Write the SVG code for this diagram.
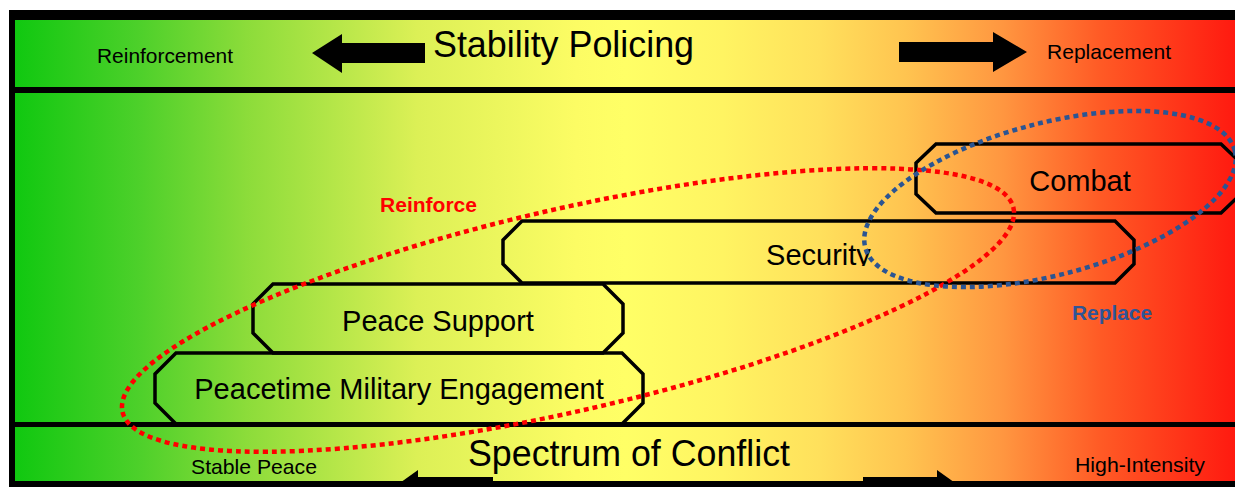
<svg xmlns="http://www.w3.org/2000/svg" width="1235" height="487" viewBox="0 0 1235 487">
<style>
.node{fill:none;stroke:#000;stroke-width:3.5;stroke-linejoin:miter}
.nt{font-family:"Liberation Sans",Arial,sans-serif;font-size:29px;fill:#000;text-anchor:middle}
.big{font-family:"Liberation Sans",Arial,sans-serif;font-size:36px;fill:#000;text-anchor:middle}
.sm{font-family:"Liberation Sans",Arial,sans-serif;font-size:21px;fill:#000;text-anchor:middle}
.lbl{font-family:"Liberation Sans",Arial,sans-serif;font-size:21px;font-weight:bold;text-anchor:middle}
.dot{fill:none;stroke-width:4.5;stroke-dasharray:5 4}
.arr{fill:#000}
</style>
<defs>
<linearGradient id="spec" gradientUnits="userSpaceOnUse" x1="15" y1="0" x2="1235" y2="0">
<stop offset="0" stop-color="#10c810"/>
<stop offset="0.1" stop-color="#4cd02a"/>
<stop offset="0.19" stop-color="#8cdc3a"/>
<stop offset="0.33" stop-color="#dcf056"/>
<stop offset="0.46" stop-color="#fcfc64"/>
<stop offset="0.5" stop-color="#ffff66"/>
<stop offset="0.58" stop-color="#fff462"/>
<stop offset="0.66" stop-color="#ffe05c"/>
<stop offset="0.73" stop-color="#ffc450"/>
<stop offset="0.81" stop-color="#ff9640"/>
<stop offset="0.89" stop-color="#ff5a25"/>
<stop offset="1" stop-color="#ff1a10"/>
</linearGradient>
<clipPath id="secclip"><rect x="600" y="225" width="450" height="41"/></clipPath>
</defs>
<rect x="0" y="0" width="1235" height="487" fill="#fff"/>
<g id="frame">
<rect x="9" y="10" width="1240" height="480" fill="#000"/>
<rect x="15" y="20" width="1225" height="67" fill="url(#spec)"/>
<rect x="15" y="93" width="1225" height="329" fill="url(#spec)"/>
<rect x="15" y="427" width="1225" height="54" fill="url(#spec)"/>
</g>
<g id="arrows">
<polygon class="arr" points="312,53 342,34 342,43 425,43 425,63 342,63 342,73"/>
<polygon class="arr" points="899,42 993,42 993,32 1027,52 993,72 993,62 899,62"/>
<polygon class="arr" points="397,485 418,470 418,477 493,477 493,493 418,493 418,500"/>
<polygon class="arr" points="863,477 937,477 937,470 958,485 937,500 937,493 863,493"/>
</g>
<g id="band-labels">
<text class="big" x="563.5" y="57" textLength="261" lengthAdjust="spacingAndGlyphs">Stability Policing</text>
<text class="sm" x="165" y="63" textLength="136" lengthAdjust="spacingAndGlyphs">Reinforcement</text>
<text class="sm" x="1109" y="59" textLength="124" lengthAdjust="spacingAndGlyphs">Replacement</text>
<text class="big" x="629" y="466" textLength="322" lengthAdjust="spacingAndGlyphs">Spectrum of Conflict</text>
<text class="sm" x="254" y="474" textLength="126" lengthAdjust="spacingAndGlyphs">Stable Peace</text>
<text class="sm" x="1140" y="472" textLength="130" lengthAdjust="spacingAndGlyphs">High-Intensity</text>
</g>
<g id="combat">
<path class="node" d="M936,144 L1221,144 L1241,163 L1241,194 L1221,213 L936,213 L916,194 L916,163 Z"/>
<text class="nt" x="1080" y="191">Combat</text>
</g>
<g id="security">
<path class="node" d="M522,221 L1115,221 L1134,240 L1134,264 L1115,283 L522,283 L503,264 L503,240 Z"/>
<text class="nt" x="818.5" y="265" clip-path="url(#secclip)">Security</text>
</g>
<g id="peace-support">
<path class="node" d="M273,284 L603,284 L623,304 L623,333 L603,353 L273,353 L253,333 L253,304 Z"/>
<text class="nt" x="438" y="331">Peace Support</text>
</g>
<g id="peacetime-military-engagement">
<path class="node" d="M176,353 L622,353 L643,374 L643,403 L622,424 L176,424 L155,403 L155,374 Z"/>
<text class="nt" x="399" y="399">Peacetime Military Engagement</text>
</g>
<g id="groupings">
<ellipse class="dot" stroke="#ff0000" cx="568" cy="310" rx="457" ry="101" transform="rotate(-12.9 568 310)"/>
<ellipse class="dot" stroke="#2b5593" cx="1050" cy="199" rx="191" ry="76" transform="rotate(-14.7 1050 199)"/>
<text class="lbl" fill="#ff0000" x="428.5" y="212" textLength="97" lengthAdjust="spacingAndGlyphs">Reinforce</text>
<text class="lbl" fill="#2e5597" x="1112" y="320" textLength="80" lengthAdjust="spacingAndGlyphs">Replace</text>
</g>
</svg>
